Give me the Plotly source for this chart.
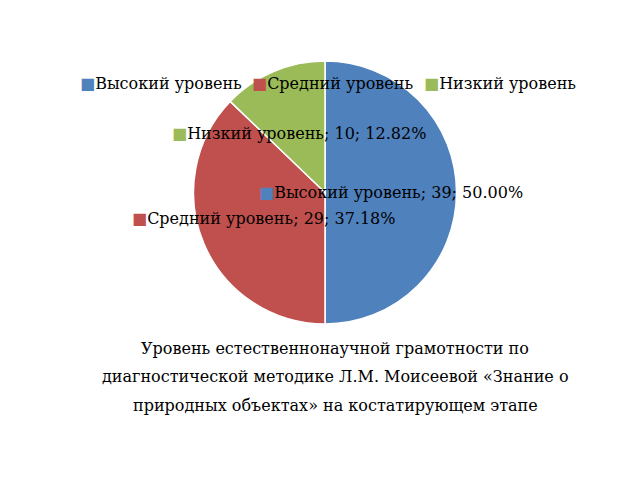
import plotly.graph_objects as go

labels = ["Высокий уровень", "Средний уровень", "Низкий уровень"]
values = [39, 29, 10]
colors = ["#4F81BD", "#C0504D", "#9BBB59"]
title_lines = [
    "Уровень естественнонаучной грамотности по",
    "диагностической методике Л.М. Моисеевой «Знание о",
    "природных объектах» на костатирующем этапе",
]

FONT = "DejaVu Serif"
FS = 16
W, H = 640, 480

fig = go.Figure(go.Pie(
    labels=labels, values=values, sort=False, direction="clockwise", rotation=0,
    marker=dict(colors=colors, line=dict(color="white", width=1.5)),
    textinfo="none", hoverinfo="label+value+percent", showlegend=False,
    domain=dict(x=[185 / W, 449 / W], y=[1 - 316 / H, 1 - 53 / H]),
))


def px(x, y):
    return x / W, 1 - y / H


total = sum(values)
# data labels (pixel anchor: left edge, vertical centre)
label_pos = [(249, 184), (122, 210), (162, 125)]
for (lx, ly), lab, v, c in zip(label_pos, labels, values, colors):
    x, y = px(lx, ly)
    txt = f"<span style='color:{c}'>■</span>{lab}; {v}; {100 * v / total:.2f}%"
    fig.add_annotation(x=x, y=y, xref="paper", yref="paper",
                       xanchor="left", yanchor="middle", showarrow=False,
                       text=txt, font=dict(family=FONT, size=FS, color="black"))

# legend row
legend_x = [70, 242, 414]
for lx, lab, c in zip(legend_x, labels, colors):
    x, y = px(lx, 75)
    fig.add_annotation(x=x, y=y, xref="paper", yref="paper",
                       xanchor="left", yanchor="middle", showarrow=False,
                       text=f"<span style='color:{c}'>■</span>{lab}",
                       font=dict(family=FONT, size=FS, color="black"))

for i, line in enumerate(title_lines):
    x, y = px(327, 340 + 28.5 * i)
    fig.add_annotation(x=x, y=y, xref="paper", yref="paper",
                       xanchor="center", yanchor="middle", showarrow=False,
                       text=line, font=dict(family=FONT, size=FS, color="black"))

fig.update_layout(
    width=W, height=H, margin=dict(l=0, r=0, t=0, b=0),
    paper_bgcolor="white", plot_bgcolor="white",
    font=dict(family=FONT, size=FS, color="black"),
    showlegend=False,
)

fig.write_html("out.html")
